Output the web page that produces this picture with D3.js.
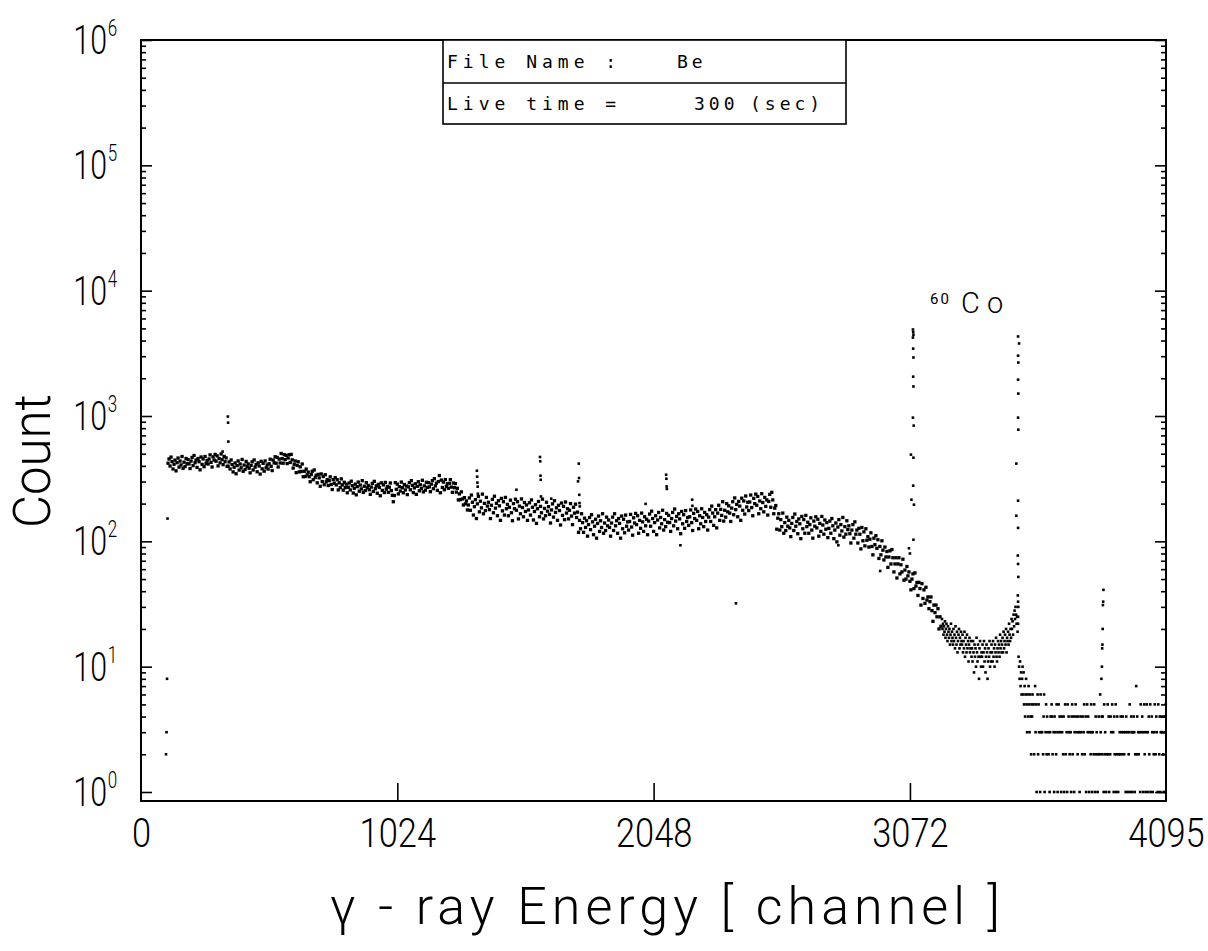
<!DOCTYPE html>
<html><head><meta charset="utf-8">
<script src="https://cdn.jsdelivr.net/npm/d3@7"></script>
<style>body{margin:0;background:#fff}svg{display:block}</style>
</head><body>
<svg id="chart" width="1208" height="951"></svg>
<script>
// ---------------- data ----------------
// main continuum: channels 108..3196, every 4th channel
const bandStart = 108, bandStep = 4;
const bandCounts = [
420,454,399,470,433,378,412,445,365,424,462,391,437,407,475,382,428,395,458,416,
449,415,381,437,467,402,484,424,445,389,458,432,372,471,411,454,394,475,419,441,
414,454,490,427,392,472,445,494,436,481,400,458,423,498,449,409,476,432,463,396,
398,430,378,446,410,358,390,422,346,402,438,370,414,386,450,362,406,374,434,394,
415,383,352,403,431,371,446,391,411,359,423,399,344,435,379,419,363,438,387,407,
377,416,452,397,367,445,423,473,420,467,392,453,422,502,457,420,492,449,485,417,
462,491,426,494,447,384,412,438,353,403,431,358,393,361,414,328,362,329,377,339,
357,328,299,341,362,310,371,323,337,293,342,321,275,345,300,329,283,340,298,311,
279,305,327,284,259,311,291,322,282,310,257,293,268,315,282,256,296,268,286,244,
270,292,257,302,278,243,265,286,235,273,297,251,281,262,305,246,275,254,294,267,
279,258,237,271,290,250,301,263,277,242,285,269,231,293,255,282,245,295,261,274,
246,270,292,254,233,207,232,294,260,286,239,273,252,297,268,244,284,257,276,236,
272,294,258,305,280,245,267,288,237,275,299,253,283,264,307,248,277,256,296,269,
294,272,249,286,305,263,316,277,291,255,300,335,244,308,269,297,258,311,274,288,
265,290,311,271,246,292,268,289,247,265,214,239,215,248,218,195,223,199,210,178,
195,222,177,234,205,162,189,215,152,199,228,172,209,185,238,166,201,176,224,191,
205,179,152,194,216,169,229,184,201,160,211,192,147,220,175,207,162,224,182,197,
160,187,213,169,146,200,182,217,177,207,151,191,166,218,186,157,204,173,195,147,
178,203,162,214,187,148,173,196,139,182,208,157,190,169,217,151,183,160,205,174,
189,164,140,178,199,156,211,170,185,147,194,176,135,202,161,190,149,206,168,182,
151,177,200,159,136,187,168,198,155,171,118,147,126,166,141,118,153,129,146,110,
136,155,124,163,143,113,132,150,106,139,159,120,146,129,166,116,140,122,156,133,
148,129,110,140,156,122,166,133,146,116,152,139,106,159,126,150,117,162,132,143,
123,144,164,130,112,154,140,167,136,160,116,147,127,168,143,120,157,133,150,113,
145,165,132,174,152,120,141,160,113,148,170,128,155,138,177,123,149,131,167,142,
161,141,120,152,170,133,181,145,158,126,166,151,115,173,138,163,127,176,144,155,
134,157,178,141,122,167,152,181,147,173,126,160,138,182,155,131,170,144,163,123,
156,179,144,191,168,134,157,179,128,168,194,147,180,161,207,145,177,156,200,172,
192,168,144,184,207,163,222,179,197,157,208,191,147,221,177,210,165,230,188,205,
176,206,234,186,160,220,200,238,194,228,166,210,182,240,204,172,224,190,214,162,
208,237,187,246,214,166,184,193,125,153,166,123,149,131,168,116,141,122,156,132,
147,128,109,139,155,122,165,132,144,115,151,138,105,158,126,149,116,161,131,142,
116,136,154,123,106,145,132,157,128,150,110,139,120,158,135,114,148,125,141,107,
127,145,116,152,133,105,123,140,99,130,149,112,136,121,155,108,131,114,146,124,
133,115,97,123,136,106,143,114,123,97,127,114,87,129,101,119,92,126,102,109,
90,104,117,91,78,106,94,111,88,103,73,91,78,101,85,71,90,75,83,62,
75,84,66,86,74,57,66,74,51,66,74,55,65,57,72,49,59,50,63,53,
57,48,41,50,55,42,56,44,47,37,47,42,31,46,35,41,32,43,34,36,
29,33,36,28,23,31,27,31,25,29,20,25,21
];
// low-count tail: channels 3200..4094, every 2nd channel (0 = empty channel)
const tailStart = 3200, tailStep = 2;
const tailCounts = [
24,20,22,18,21,19,23,17,20,22,18,16,21,19,17,20,15,18,22,16,
19,17,15,20,16,18,14,21,17,15,19,13,16,18,20,14,17,15,19,16,
15,18,13,16,14,19,12,17,15,13,18,14,16,11,15,17,13,14,16,12,
14,11,16,13,9,15,12,14,10,17,13,11,15,12,8,14,16,12,10,13,
12,15,10,13,16,11,14,9,12,15,13,8,11,14,12,16,10,13,11,15,
13,11,16,12,14,10,15,13,17,12,11,14,16,13,15,12,18,14,16,13,
15,17,13,19,14,16,18,15,20,13,17,16,19,15,22,18,16,20,17,24,
20,23,18,26,21,28,24,30,26,22,25,19,22,12,10,8,11,7,9,6,
8,10,6,9,5,7,4,6,8,5,3,6,4,7,5,3,6,4,2,5,
4,6,0,5,2,0,7,3,5,1,0,6,2,5,3,0,1,6,3,0,
3,0,2,4,6,1,0,3,5,2,4,0,3,2,0,1,3,4,0,5,
4,2,0,3,1,4,0,3,2,5,0,1,3,5,0,4,3,0,1,4,
3,0,2,4,1,0,5,2,0,3,1,5,0,4,3,2,0,3,1,4,
5,2,0,4,1,3,0,5,4,0,3,2,4,0,3,1,0,4,3,0,
2,4,0,3,5,2,0,4,1,0,5,3,4,0,1,3,0,2,5,3,
1,3,0,2,5,0,1,4,2,3,0,1,2,4,0,2,6,3,0,4,
2,4,0,1,5,2,3,0,1,2,0,5,2,4,1,0,2,4,3,0,
5,0,3,1,4,2,0,5,1,2,4,0,1,2,0,3,2,4,0,3,
2,4,0,3,2,0,3,1,4,0,3,1,0,2,3,5,1,0,4,3,
1,3,0,4,3,1,2,0,7,2,4,0,3,2,0,3,1,5,0,3,
4,0,1,3,5,2,0,1,3,5,0,3,1,4,2,0,5,1,0,4,
3,1,0,2,3,5,0,2,4,3,0,1,5,0,2,4,1,3,0,4,
3,0,2,1,4,3,0,5
];
// threshold channels at the very start
const edgeChannels = [100, 102, 104, 106];
const edgeCounts   = [2, 3, 8, 152];
// small peaks and isolated channels
const spikeChannels = [326,347,348,349, 1342,1343,1344,1345,1346, 1500,
  1594,1595,1596,1597,1598, 1639, 1746,1749,1750,1751,1752,1753, 2016,
  2098,2099,2100,2101, 2155, 2202,2203, 2377, 2786, 2953];
const spikeCounts = [520,990,885,625, 366,328,294,273,240, 258,
  471,435,334,310,228, 219, 301,417,320,235,202,190, 199,
  340,316,274,262, 93, 215,192, 32, 93, 58];
// 60Co 1173 keV peak
const co1Channels = [3068,3072,3076,3078,3084,3085,3086,3084,3085,3086,3085,3086,3084,3087,3086,3085,3088,3086];
const co1Counts   = [88,80,492,215,4900,4670,4450,4230,3450,2930,2060,1720,970,838,465,278,196,103];
// 60Co 1332 keV peak
const co2Channels = [3504,3508,3504,3505,3504,3505,3504,3505,3497,3504,3497,3504,3503,3504,3505,3503,3504,3505,3504];
const co2Counts   = [4310,3790,3030,2670,1950,1510,970,778,417,211,160,128,77,66,52,37,33,30,25];
// small peak near channel 3840
const p3Channels = [3837,3839,3840,3841,3842,3843,3844,3845];
const p3Counts   = [8,10,14,15,20,31,33,41];

const xTickValues = [0, 1024, 2048, 3072, 4095];
const xTickLabels = ["0", "1024", "2048", "3072", "4095"];
const yDecades = [0, 1, 2, 3, 4, 5, 6];
const infoLabels = ["File Name :", "Live time ="];
const infoValues = [["Be"], ["300", "(sec)"]];

// ---------------- drawing ----------------
const svg = d3.select("#chart");
svg.append("rect").attr("width", 1208).attr("height", 951).attr("fill", "#fff");

const L = 141, R = 1166, T = 40, B = 801;
const x = d3.scaleLinear().domain([0, 4095]).range([L, R]);
const y = d3.scaleLog().domain([1, 1e6]).range([792, 40]);
const sans = "Roboto, 'Liberation Sans', Arial, sans-serif";

// points: [channel, count, marker size]
const pts = [];
const SB = 3.3, SP = 2.6;
bandCounts.forEach((c, i) => pts.push([bandStart + i * bandStep, c, SB]));
tailCounts.forEach((c, i) => pts.push([tailStart + i * tailStep, c, SP]));
edgeChannels.forEach((ch, i) => pts.push([ch, edgeCounts[i], SP]));
spikeChannels.forEach((ch, i) => pts.push([ch, spikeCounts[i], SP]));
co1Channels.forEach((ch, i) => pts.push([ch, co1Counts[i], SP]));
co2Channels.forEach((ch, i) => pts.push([ch, co2Counts[i], SP]));
p3Channels.forEach((ch, i) => pts.push([ch, p3Counts[i], SP]));

svg.append("g").selectAll("rect").data(pts.filter(d => d[1] > 0)).join("rect")
  .attr("x", d => x(d[0]) - d[2] / 2).attr("y", d => y(d[1]) - d[2] / 2)
  .attr("width", d => d[2]).attr("height", d => d[2]).attr("fill", "#000");

// ticks
const major = yDecades.map(d => Math.pow(10, d));
const minor = [];
yDecades.slice(0, -1).forEach(d => { for (let m = 2; m <= 9; m++) minor.push(m * Math.pow(10, d)); });

function tickAxis(axis, tx, ty) {
  const g = svg.append("g").attr("transform", `translate(${tx},${ty})`).call(axis);
  g.select(".domain").remove();
  g.selectAll("line").attr("stroke", "#000").attr("stroke-width", 1.6);
  g.selectAll("text").remove();
  return g;
}
tickAxis(d3.axisRight(y).tickValues(major).tickSize(11).tickFormat(""), L, 0);
tickAxis(d3.axisRight(y).tickValues(minor).tickSize(5).tickFormat(""), L, 0);
tickAxis(d3.axisLeft(y).tickValues(major).tickSize(11).tickFormat(""), R, 0);
tickAxis(d3.axisLeft(y).tickValues(minor).tickSize(5).tickFormat(""), R, 0);
tickAxis(d3.axisBottom(x).tickValues([1024, 2048, 3072]).tickSize(-18).tickFormat(""), 0, B);

// frame
svg.append("rect").attr("x", L).attr("y", T).attr("width", R - L).attr("height", B - T)
  .attr("fill", "none").attr("stroke", "#000").attr("stroke-width", 2);

// x tick labels
const xl = svg.append("g").attr("transform", `translate(0,${B})`)
  .call(d3.axisBottom(x).tickValues(xTickValues).tickSize(0).tickPadding(17)
    .tickFormat((d, i) => xTickLabels[i]));
xl.select(".domain").remove();
xl.attr("font-family", sans).attr("font-size", 41).attr("font-weight", 300);
xl.selectAll("text").attr("fill", "#000").attr("transform", "scale(0.84,1)");

// y tick labels  10^n
const yl = svg.append("g").attr("font-family", sans).attr("font-weight", 300).attr("fill", "#000");
yDecades.forEach(d => {
  const g = yl.append("g").attr("transform", `translate(107,${y(Math.pow(10, d))}) scale(0.74,1)`);
  g.append("text").attr("x", 0).attr("y", 14).attr("text-anchor", "end").attr("font-size", 41).text("10");
  g.append("text").attr("x", 1).attr("y", -4).attr("font-size", 23).text(String(d));
});

// axis titles
svg.append("text").attr("transform", "translate(50,461) rotate(-90)")
  .attr("text-anchor", "middle").attr("font-family", sans).attr("font-weight", 300)
  .attr("font-size", 51).attr("fill", "#000").attr("textLength", 134).attr("lengthAdjust", "spacing")
  .text("Count");

svg.append("text").attr("x", 330).attr("y", 924)
  .attr("font-family", sans).attr("font-weight", 300).attr("font-size", 52)
  .attr("fill", "#000").attr("textLength", 670).attr("lengthAdjust", "spacing")
  .text("γ - ray  Energy  [ channel ]");

// info box
const bx0 = 443, bx1 = 846, by0 = T, bym = 83, by1 = 124;
const box = svg.append("g");
box.append("rect").attr("x", bx0).attr("y", by0).attr("width", bx1 - bx0).attr("height", by1 - by0)
  .attr("fill", "#fff").attr("stroke", "#000").attr("stroke-width", 1.6);
box.append("line").attr("x1", bx0).attr("x2", bx1).attr("y1", bym).attr("y2", bym)
  .attr("stroke", "#000").attr("stroke-width", 1.6);
const mono = "'DejaVu Sans Mono', 'Liberation Mono', monospace";
const rowsY = [68, 110];
infoLabels.forEach((t, i) => {
  box.append("text").attr("x", 447).attr("y", rowsY[i]).attr("font-family", mono)
    .attr("font-size", 18).attr("letter-spacing", 5).attr("fill", "#000").text(t);
});
const valX = [[677], [694, 750]];
infoValues.forEach((vals, i) => vals.forEach((v, j) => {
  box.append("text").attr("x", valX[i][j]).attr("y", rowsY[i]).attr("font-family", mono)
    .attr("font-size", 18).attr("letter-spacing", 4).attr("fill", "#000").text(v);
}));

// 60Co annotation
svg.append("text").attr("x", 930).attr("y", 304).attr("font-family", sans)
  .attr("font-size", 15).attr("letter-spacing", 2).attr("fill", "#000").text("60");
svg.append("text").attr("x", 961).attr("y", 313).attr("font-family", sans).attr("font-weight", 300)
  .attr("font-size", 29).attr("fill", "#000").text("C o");
</script>
</body></html>
